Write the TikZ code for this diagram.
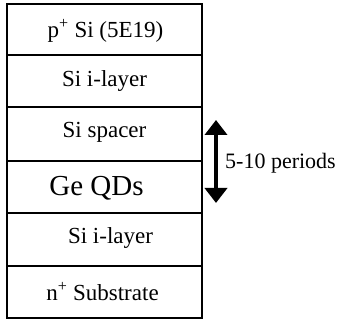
\documentclass[tikz,border=0pt]{standalone}
\usepackage{fontspec}
\setmainfont{Liberation Serif}
\usetikzlibrary{arrows.meta}
\begin{document}
\begin{tikzpicture}[x=1pt,y=-1pt,
  layer/.style={draw,line width=1.5pt,minimum width=195pt,inner sep=0pt,outer sep=0pt},
  lbl/.style={font=\fontsize{23}{26}\selectfont,inner sep=0pt},
  biglbl/.style={font=\fontsize{29}{32}\selectfont,inner sep=0pt}]
\useasboundingbox (0,0) rectangle (341,320);
\node[layer,minimum height=51pt] (l1) at (104.5,29.5) {};
\node[layer,minimum height=52pt] (l2) at (104.5,81) {};
\node[layer,minimum height=54pt] (l3) at (104.5,134) {};
\node[layer,minimum height=52pt] (l4) at (104.5,187) {};
\node[layer,minimum height=53pt] (l5) at (104.5,239.5) {};
\node[layer,minimum height=52pt] (l6) at (104.5,292) {};
\node[lbl] (t1) at ([xshift=1pt,yshift=-1pt]l1.center) {p\textsuperscript{+} Si (5E19)};
\node[lbl] (t2) at ([xshift=0pt,yshift=0pt]l2.center) {Si i-layer};
\node[lbl] (t3) at ([xshift=0pt,yshift=2pt]l3.center) {Si spacer};
\node[biglbl] (t4) at ([xshift=-8pt,yshift=-1pt]l4.center) {Ge QDs};
\node[lbl] (t5) at ([xshift=6pt,yshift=1pt]l5.center) {Si i-layer};
\node[lbl] (t6) at ([xshift=-2pt,yshift=0pt]l6.center) {n\textsuperscript{+} Substrate};
\coordinate (atop) at (216,120);
\coordinate (abot) at (216,203);
\draw[line width=4pt,{Triangle[width=22pt,length=15pt]}-{Triangle[width=22pt,length=15pt]}] (atop) -- (abot);
\node[lbl,anchor=west,font=\fontsize{22}{26}\selectfont] (per) at (225,163) {5-10 periods};
\end{tikzpicture}
\end{document}
